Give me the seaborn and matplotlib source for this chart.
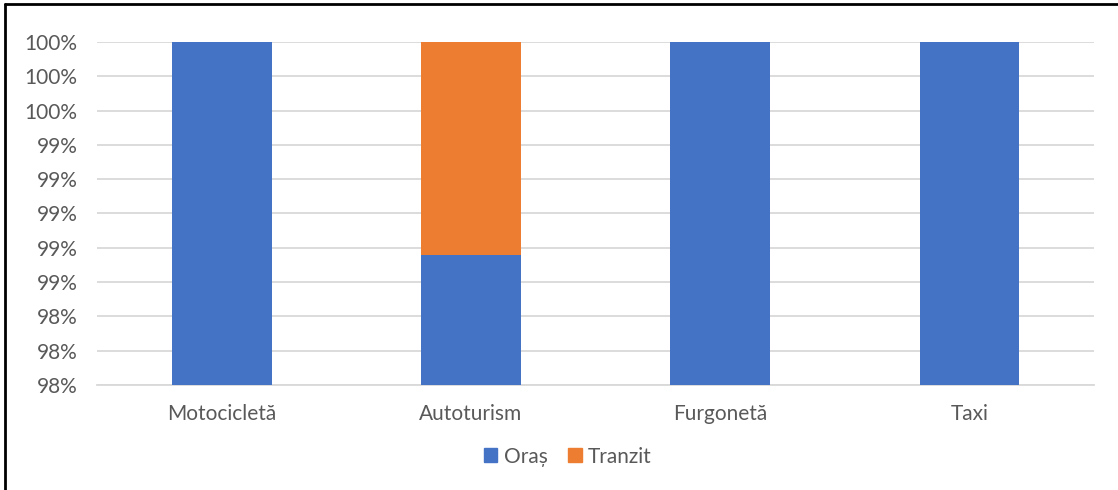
import matplotlib
matplotlib.use("Agg")
import matplotlib.pyplot as plt
import seaborn as sns
import numpy as np
import pandas as pd
from matplotlib.lines import Line2D
from matplotlib.patches import Patch

categories = ["Motocicletă", "Autoturism", "Furgonetă", "Taxi"]
oras = [100.0, 98.76, 100.0, 100.0]
tranzit = [0.0, 1.24, 0.0, 0.0]
tick_values = [98.0, 98.2, 98.4, 98.6, 98.8, 99.0, 99.2, 99.4, 99.6, 99.8, 100.0]
tick_labels = ["98%", "98%", "98%", "99%", "99%", "99%", "99%", "99%", "100%", "100%", "100%"]
series_names = ["Oraș", "Tranzit"]

BLUE = "#4472C4"
ORANGE = "#ED7D31"
TXT = "#595959"

sns.set_theme(style="white")
plt.rcParams["font.family"] = ["Lato", "DejaVu Sans"]

df = pd.DataFrame({"cat": categories, "oras": oras,
                   "total": [o + t for o, t in zip(oras, tranzit)]})

fig = plt.figure(figsize=(11.18, 4.9), dpi=100)
ax = fig.add_axes([0.0868, 0.2143, 0.8917, 0.7])

sns.barplot(data=df, x="cat", y="total", color=ORANGE, saturation=1, width=0.4,
            ax=ax, zorder=3, linewidth=0)
sns.barplot(data=df, x="cat", y="oras", color=BLUE, saturation=1, width=0.4,
            ax=ax, zorder=4, linewidth=0)

ax.set_ylim(98.0, 100.0)
ax.set_xlim(-0.5, len(categories) - 0.5)
ax.set_yticks(tick_values)
ax.set_yticklabels(tick_labels)
ax.yaxis.grid(True, color="#d9d9d9", linewidth=1.3, zorder=0)
ax.set_axisbelow(True)
for s in ["top", "right", "left"]:
    ax.spines[s].set_visible(False)
ax.spines["bottom"].set_color("#d9d9d9")
ax.spines["bottom"].set_linewidth(1.3)
ax.tick_params(axis="both", length=0, labelsize=15, colors=TXT)
ax.tick_params(axis="y", pad=14)
ax.tick_params(axis="x", pad=14)
ax.set_xlabel("")
ax.set_ylabel("")

handles = [Patch(color=BLUE), Patch(color=ORANGE)]
fig.legend(handles, series_names, loc="center", bbox_to_anchor=(0.508, 0.068),
           ncol=2, frameon=False, fontsize=15, labelcolor=TXT,
           handlelength=0.65, handleheight=0.65, handletextpad=0.3, columnspacing=1.0)

# border lines (left and top)
fig.add_artist(Line2D([0.0045, 0.0045], [0, 0.992], transform=fig.transFigure,
                      color="black", linewidth=2))
fig.add_artist(Line2D([0.0045, 1.0], [0.992, 0.992], transform=fig.transFigure,
                      color="black", linewidth=2))

fig.savefig("out.png", dpi=100, facecolor="white")
